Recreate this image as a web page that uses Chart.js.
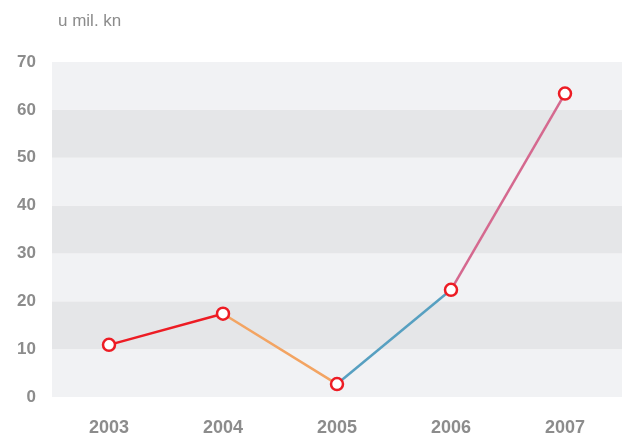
<!DOCTYPE html>
<html lang="hr">
<head>
    <meta charset="UTF-8">
    <title>u mil. kn</title>
    <script src="https://cdn.jsdelivr.net/npm/chart.js"></script>
    <style>
        html, body { margin: 0; padding: 0; background: #fff; overflow: hidden; }
        canvas { display: block; }
    </style>
</head>
<body>
    <canvas id="chart" width="624" height="434"></canvas>

    <script>
        // data
        const years = ['2003', '2004', '2005', '2006', '2007'];
        const values = [10.9, 17.4, 2.7, 22.4, 63.4];
        const segmentColors = ['#ed1c24', '#f3a462', '#57a0c1', '#d5698f'];
        const yTicks = [0, 10, 20, 30, 40, 50, 60, 70];
        const unitLabel = 'u mil. kn';

        // alternating background bands + unit label
        const bands = {
            id: 'bands',
            beforeDatasetsDraw(chart) {
                const { ctx, chartArea, scales: { y } } = chart;
                ctx.save();
                for (let i = 0; i < yTicks.length - 1; i++) {
                    const top = y.getPixelForValue(yTicks[i + 1]);
                    const bottom = y.getPixelForValue(yTicks[i]);
                    ctx.fillStyle = i % 2 === 1 ? '#e5e6e8' : '#f1f2f4';
                    ctx.fillRect(chartArea.left, top, chartArea.right - chartArea.left, bottom - top);
                }
                ctx.restore();
            },
            afterDraw(chart) {
                const { ctx } = chart;
                ctx.save();
                ctx.font = '17px "Liberation Sans", Arial, sans-serif';
                ctx.fillStyle = '#8c8c8c';
                ctx.textBaseline = 'middle';
                ctx.fillText(unitLabel, 58, 21);
                ctx.restore();
            }
        };

        new Chart(document.getElementById('chart'), {
            type: 'line',
            data: {
                labels: years,
                datasets: [{
                    data: values,
                    borderWidth: 2.5,
                    borderColor: '#ed1c24',
                    segment: {
                        borderColor: c => segmentColors[c.p0DataIndex]
                    },
                    pointRadius: 6,
                    pointBorderWidth: 2.5,
                    pointBackgroundColor: '#ffffff',
                    pointBorderColor: '#ed1c24',
                    tension: 0,
                    clip: false
                }]
            },
            options: {
                responsive: false,
                animation: false,
                layout: {
                    autoPadding: false,
                    padding: { top: 62, right: 2, bottom: 0, left: 0 }
                },
                plugins: {
                    legend: { display: false },
                    tooltip: { enabled: false }
                },
                scales: {
                    x: {
                        offset: true,
                        afterFit(scale) {
                            scale.height = 37;
                            scale.paddingLeft = 0;
                            scale.paddingRight = 0;
                        },
                        grid: { display: false, drawTicks: false },
                        border: { display: false },
                        ticks: {
                            padding: 20,
                            color: '#8c8c8c',
                            font: { family: '"Liberation Sans", Arial, sans-serif', size: 18, weight: 'bold' }
                        }
                    },
                    y: {
                        min: 0,
                        max: 70,
                        afterFit(scale) { scale.width = 52; },
                        grid: { display: false, drawTicks: false },
                        border: { display: false },
                        afterBuildTicks(scale) {
                            scale.ticks = yTicks.map(v => ({ value: v }));
                        },
                        ticks: {
                            padding: 16,
                            color: '#8c8c8c',
                            font: { family: '"Liberation Sans", Arial, sans-serif', size: 17, weight: 'bold' }
                        }
                    }
                }
            },
            plugins: [bands]
        });
    </script>
</body>
</html>
